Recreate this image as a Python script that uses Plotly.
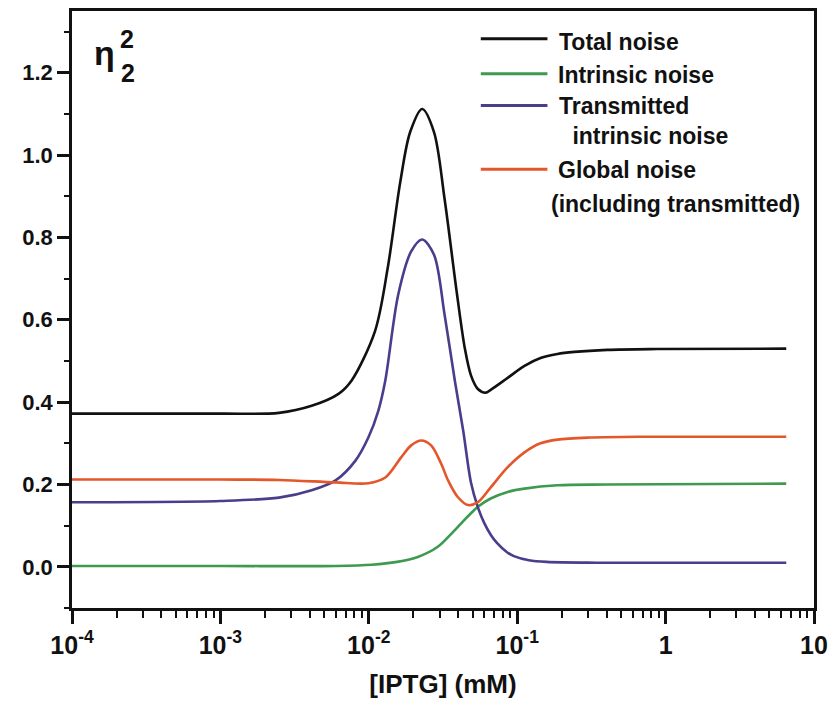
import plotly.graph_objects as go

# ---------------- data ----------------
total_x = [1e-4, 1e-3, 0.00248, 0.00412, 0.00625, 0.00764, 0.011, 0.0134, 0.0163,
           0.019, 0.0229, 0.0275, 0.0324, 0.0393, 0.0444, 0.0488, 0.0543, 0.0614, 0.0663,
           0.0863, 0.112, 0.1436, 0.1866, 0.2425, 0.404, 0.873, 6.5]
total_y = [0.372, 0.372, 0.374, 0.391, 0.42, 0.452, 0.572, 0.725, 0.935,
           1.056, 1.112, 1.056, 0.894, 0.662, 0.53, 0.465, 0.432, 0.423, 0.43,
           0.459, 0.488, 0.507, 0.517, 0.522, 0.527, 0.529, 0.53]

intr_x = [1e-4, 1e-3, 0.006, 0.0105, 0.0155, 0.0214, 0.029, 0.037, 0.043, 0.0488,
          0.0543, 0.0663, 0.0863, 0.112, 0.1866, 0.404, 6.5]
intr_y = [0.002, 0.002, 0.002, 0.005, 0.012, 0.024, 0.048, 0.085, 0.11, 0.13,
          0.146, 0.166, 0.182, 0.19, 0.198, 0.2, 0.202]

trans_x = [1e-4, 1e-3, 0.00248, 0.00412, 0.00597, 0.00813, 0.00993, 0.01159, 0.01291, 0.01578,
           0.0193, 0.0229, 0.0275, 0.0324, 0.038, 0.0433, 0.0488, 0.0543, 0.060, 0.0663,
           0.073, 0.085, 0.095, 0.12, 0.158, 0.34, 6.5]
trans_y = [0.157, 0.160, 0.168, 0.186, 0.21, 0.258, 0.314, 0.379, 0.452, 0.661,
           0.766, 0.795, 0.758, 0.613, 0.452, 0.33, 0.205, 0.145, 0.106, 0.078,
           0.058, 0.036, 0.026, 0.016, 0.012, 0.01, 0.01]

glob_x = [1e-4, 1e-3, 0.00248, 0.00597, 0.00993, 0.01291, 0.01652, 0.0193, 0.02254,
          0.0263, 0.0307, 0.0342, 0.0399, 0.0466, 0.0543, 0.0663, 0.0863, 0.112, 0.1436,
          0.1866, 0.310, 0.671, 6.5]
glob_y = [0.212, 0.212, 0.211, 0.205, 0.203, 0.217, 0.266, 0.295, 0.307,
          0.295, 0.251, 0.21, 0.169, 0.15, 0.157, 0.193, 0.242, 0.278, 0.30,
          0.309, 0.314, 0.316, 0.316]

series_names = ["Total noise", "Intrinsic noise", "Transmitted intrinsic noise",
                "Global noise (including transmitted)"]
legend_lines = [["Total noise"], ["Intrinsic noise"], ["Transmitted", " intrinsic noise"],
                ["Global noise", "(including transmitted)"]]
colors = ["#111111", "#3d9a4f", "#4a3d8c", "#e3572b"]

x_tickvals = [1e-4, 1e-3, 1e-2, 1e-1, 1, 10]
x_ticktext = ["10<sup>-4</sup>", "10<sup>-3</sup>", "10<sup>-2</sup>", "10<sup>-1</sup>", "1", "10"]
y_tickvals = [0.0, 0.2, 0.4, 0.6, 0.8, 1.0, 1.2]
y_ticktext = ["0.0", "0.2", "0.4", "0.6", "0.8", "1.0", "1.2"]

# ---------------- figure ----------------
W, H = 836, 709
ML, MR, MT, MB = 72, 18, 8, 101
PW, PH = W - ML - MR, H - MT - MB


def px(xp):
    return (xp - ML) / PW


def py(yp):
    return (H - MB - yp) / PH


FONT = "Liberation Sans, Arial, sans-serif"

fig = go.Figure()
for xs, ys, name, col in zip([total_x, intr_x, trans_x, glob_x],
                             [total_y, intr_y, trans_y, glob_y],
                             series_names, colors):
    fig.add_trace(go.Scatter(x=xs, y=ys, mode="lines", name=name,
                             line=dict(color=col, width=2.6, shape="spline", smoothing=0.9),
                             showlegend=False))

# manual legend (swatch aligned with the first text line)
sw_y = [36, 71, 103, 167]
txt_pos = [[(560, 39)], [(559, 72)], [(560, 103), (567, 134)], [(559, 168), (552, 202)]]
shapes = []
annotations = []
for col, yy, lines, poss in zip(colors, sw_y, legend_lines, txt_pos):
    shapes.append(dict(type="line", xref="paper", yref="paper",
                       x0=px(483), x1=px(550), y0=py(yy), y1=py(yy),
                       line=dict(color=col, width=3)))
    for t, (tx, ty) in zip(lines, poss):
        annotations.append(dict(text=t, xref="paper", yref="paper", x=px(tx), y=py(ty),
                                xanchor="left", yanchor="middle", showarrow=False,
                                font=dict(family=FONT, size=23, color="#111111", weight="bold")))

# eta label
annotations.append(dict(text="η", xref="paper", yref="paper", x=px(105), y=py(50),
                        xanchor="center", yanchor="middle", showarrow=False,
                        font=dict(family=FONT, size=34, color="#111111", weight="bold")))
annotations.append(dict(text="2", xref="paper", yref="paper", x=px(127), y=py(36),
                        xanchor="center", yanchor="middle", showarrow=False,
                        font=dict(family=FONT, size=25, color="#111111", weight="bold")))
annotations.append(dict(text="2", xref="paper", yref="paper", x=px(128), y=py(70),
                        xanchor="center", yanchor="middle", showarrow=False,
                        font=dict(family=FONT, size=25, color="#111111", weight="bold")))

minor_x = [m * 10 ** e for e in range(-4, 1) for m in range(2, 10)]

fig.update_layout(
    width=W, height=H,
    margin=dict(l=ML, r=MR, t=MT, b=MB),
    paper_bgcolor="white", plot_bgcolor="white",
    shapes=shapes, annotations=annotations,
    font=dict(family=FONT, color="#111111"),
    xaxis=dict(type="log", range=[-4, 1], tickmode="array", tickvals=x_tickvals,
               ticktext=x_ticktext, ticks="outside", ticklen=13, tickwidth=2.5,
               tickcolor="#111111", showline=True, linewidth=2.5, linecolor="#111111",
               mirror=True, showgrid=False, zeroline=False,
               tickfont=dict(family=FONT, size=25, color="#111111", weight="bold"),
               minor=dict(tickmode="array", tickvals=minor_x, ticks="outside",
                          ticklen=7, tickwidth=2, tickcolor="#111111", showgrid=False),
               title=dict(text="[IPTG] (mM)", standoff=18,
                          font=dict(family=FONT, size=26, color="#111111", weight="bold"))),
    yaxis=dict(range=[-0.1, 1.35], tickmode="array", tickvals=y_tickvals,
               ticktext=y_ticktext, ticks="outside", ticklen=12, tickwidth=2.5,
               tickcolor="#111111", showline=True, linewidth=2.5, linecolor="#111111",
               mirror=True, showgrid=False, zeroline=False,
               tickfont=dict(family=FONT, size=22, color="#111111", weight="bold"),
               minor=dict(dtick=0.1, ticks="outside", ticklen=5, tickwidth=2,
                          tickcolor="#111111", showgrid=False)),
)

fig.write_html("out.html")
